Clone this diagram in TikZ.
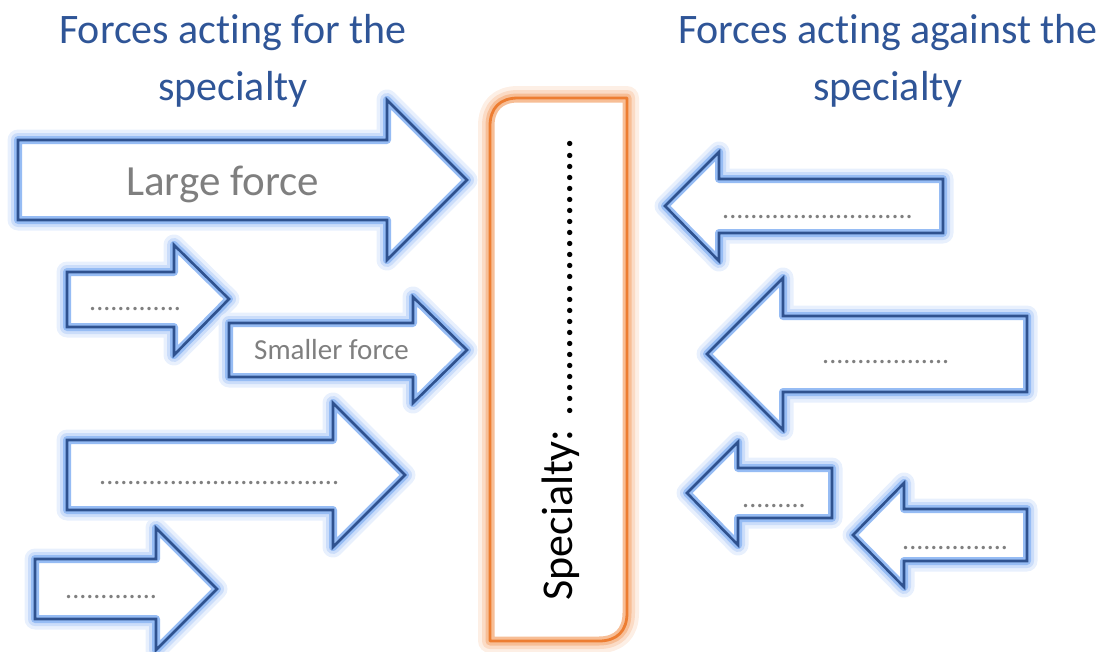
\documentclass[tikz,border=0pt]{standalone}
\usepackage{fontspec}
\setmainfont{Carlito}[Ligatures=NoCommon]
\usetikzlibrary{calc}
\definecolor{titleblue}{HTML}{2F5597}
\definecolor{arrowblue}{HTML}{2F528F}
\definecolor{glowblue}{RGB}{150,188,244}
\definecolor{textgray}{HTML}{7F7F7F}
\definecolor{boxorange}{HTML}{ED7D31}
\definecolor{gloworange}{RGB}{247,190,150}

\begin{document}
\begin{tikzpicture}[x=1pt, y=-1pt,
	push/.style={fill=white, draw=glowblue, line width=8pt, line join=round,
		preaction={draw=glowblue!22, line width=21pt, line join=round},
		preaction={draw=glowblue!50, line width=14pt, line join=round},
		postaction={draw=arrowblue, fill=none, line width=2.6pt, line join=miter}},
	card/.style={fill=white, draw=gloworange, line width=9pt, line join=round,
		preaction={draw=gloworange!25, line width=24pt, line join=round},
		preaction={draw=gloworange!55, line width=16pt, line join=round},
		postaction={draw=boxorange, fill=none, line width=2.8pt}},
	title/.style={text=titleblue, align=center, anchor=base, font=\fontsize{42}{57}\selectfont},
	small/.style={text=textgray, anchor=base west, inner sep=0pt, font=\fontsize{28}{34}\selectfont}]

		\useasboundingbox (0,0) rectangle (1106,651);

		\node[title] (T1) at (233,100) {Forces acting for the\\specialty};
		\node[title] (T2) at (888,100) {Forces acting against the\\specialty};

		\coordinate (A) at (490,641);
		\coordinate (B) at (490,98);
		\coordinate (C) at (627,98);
		\coordinate (D) at (627,641);

		\draw[card] (A) -- ($(B)+(0,28)$) .. controls ($(B)+(0,10)$) and ($(B)+(10,0)$) .. ($(B)+(28,0)$) -- (C)
			-- ($(D)+(0,-28)$) .. controls ($(D)+(0,-10)$) and ($(D)+(-10,0)$) .. ($(D)+(-28,0)$) -- cycle;

		\node[rotate=90, anchor=base west, inner sep=0pt, font=\fontsize{44}{50}\selectfont] (S)
			at (572,601) {Specialty: .........................};

		\draw[push] (18,140) -- (387,140) -- (387,100) -- (467,180) -- (387,260) -- (387,220) -- (18,220) -- cycle;
		\draw[push] (67,272) -- (174,272) -- (174,245) -- (229,299) -- (174,355) -- (174,327) -- (67,327) -- cycle;
		\draw[push] (229,323) -- (413,323) -- (413,297) -- (467,350) -- (413,403) -- (413,377) -- (229,377) -- cycle;
		\draw[push] (67,440) -- (333,440) -- (333,403) -- (405,475) -- (333,547) -- (333,510) -- (67,510) -- cycle;
		\draw[push] (35,559) -- (156,559) -- (156,528) -- (217,589) -- (156,650) -- (156,619) -- (35,619) -- cycle;

		\draw[push] (943,179) -- (719,179) -- (719,152) -- (665,206) -- (719,261) -- (719,233) -- (943,233) -- cycle;
		\draw[push] (1027,316) -- (783,316) -- (783,278) -- (707,354) -- (783,430) -- (783,392) -- (1027,392) -- cycle;
		\draw[push] (832,468) -- (738,468) -- (738,442) -- (687,493) -- (738,545) -- (738,518) -- (832,518) -- cycle;
		\draw[push] (1027,509) -- (904,509) -- (904,483) -- (853,535) -- (904,587) -- (904,561) -- (1027,561) -- cycle;

		\node[small, font=\fontsize{43}{50}\selectfont] (F1) at (126,195) {Large force};
		\node[small] (F2) at (89,310) {.............};
		\node[small, font=\fontsize{29}{34}\selectfont] (F3) at (254,359) {Smaller force};
		\node[small] (F4) at (99,484) {..................................};
		\node[small] (F5) at (65,598) {.............};

		\node[small] (G1) at (722,218) {...........................};
		\node[small] (G2) at (822,363) {..................};
		\node[small] (G3) at (742,507) {.........};
		\node[small] (G4) at (902,549) {...............};

	\end{tikzpicture}
\end{document}
